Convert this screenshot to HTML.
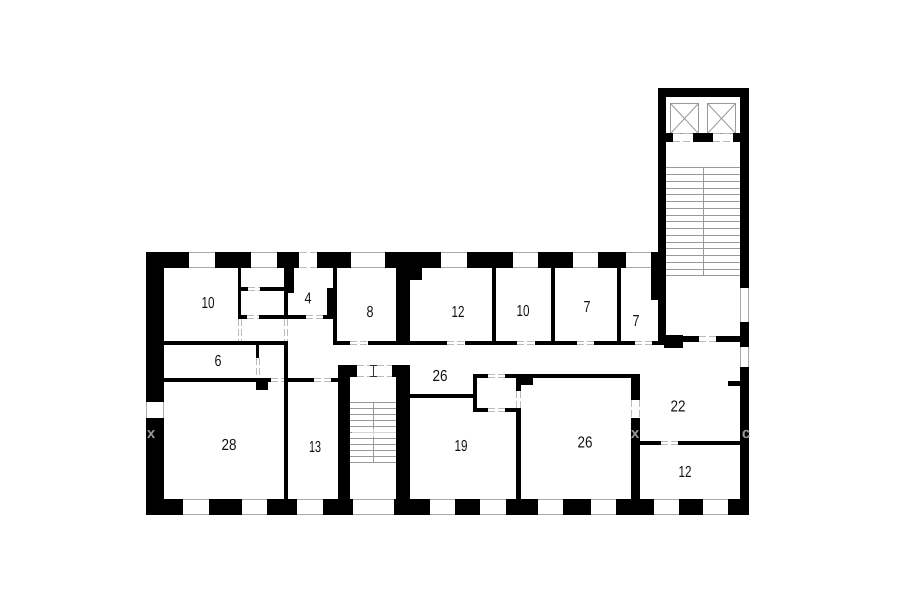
<!DOCTYPE html>
<html><head><meta charset="utf-8"><style>
html,body{margin:0;padding:0;background:#fff}
svg{display:block}
text{font-family:"Liberation Sans",sans-serif;font-size:16px;fill:#111;text-anchor:middle;text-rendering:geometricPrecision}
</style></head><body>
<svg width="900" height="604" viewBox="0 0 900 604" xmlns="http://www.w3.org/2000/svg">
<rect width="900" height="604" fill="#fff"/>
<!-- stairs -->
<g stroke="#999" stroke-width="1" fill="none">
<path d="M666 167.500H740M666 174.500H740M666 181.500H740M666 188.500H740M666 194.500H740M666 201.500H740M666 208.500H740M666 215.500H740M666 221.500H740M666 228.500H740M666 235.500H740M666 242.500H740M666 248.500H740M666 255.500H740M666 262.500H740M666 269.500H740M666 275.500H740M703.500 167V275"/>
<path d="M350 402.500H396M350 408.500H396M350 414.500H396M350 420.500H396M350 426.500H396M350 432.500H396M350 438.500H396M350 444.500H396M350 450.500H396M350 456.500H396M350 462.500H396M373.500 402V462"/>
<rect x="670.500" y="103.500" width="28" height="30"/><path d="M670.500 103.500L698.500 133.500M698.500 103.500L670.500 133.500"/>
<rect x="707.500" y="103.500" width="28" height="30"/><path d="M707.500 103.500L735.500 133.500M735.500 103.500L707.500 133.500"/>
</g>
<rect x="352" y="429" width="44" height="8" fill="#fff" opacity=".6"/>
<!-- walls -->
<g fill="#000">
<rect x="146" y="252" width="18" height="150"/><rect x="146" y="418" width="18" height="97"/>
<rect x="146" y="252" width="43" height="16"/><rect x="215" y="252" width="36" height="16"/><rect x="277" y="252" width="22" height="16"/>
<rect x="317" y="252" width="34" height="16"/><rect x="385" y="252" width="56" height="16"/><rect x="467" y="252" width="46" height="16"/>
<rect x="538" y="252" width="35" height="16"/><rect x="598" y="252" width="28" height="16"/>
<rect x="146" y="499" width="37" height="16"/><rect x="209" y="499" width="33" height="16"/><rect x="267" y="499" width="30" height="16"/>
<rect x="323" y="499" width="30" height="16"/><rect x="394" y="499" width="36" height="16"/><rect x="455" y="499" width="25" height="16"/>
<rect x="506" y="499" width="32" height="16"/><rect x="563" y="499" width="28" height="16"/><rect x="616" y="499" width="38" height="16"/>
<rect x="679" y="499" width="24" height="16"/><rect x="728" y="499" width="21" height="16"/>
<rect x="658" y="88" width="91" height="9"/><rect x="658" y="88" width="8" height="254"/>
<rect x="740" y="88" width="9" height="200"/><rect x="740" y="322" width="9" height="25"/><rect x="740" y="367" width="9" height="148"/>
<rect x="651" y="252" width="8" height="16"/><rect x="651" y="268" width="9" height="32"/>
<rect x="666" y="133" width="7" height="9"/><rect x="693" y="133" width="20" height="9"/><rect x="733" y="133" width="7" height="9"/>
<rect x="664" y="335" width="19" height="13"/><rect x="683" y="336" width="16" height="6"/><rect x="716" y="336" width="24" height="6"/>
<rect x="238" y="268" width="3" height="51"/>
<rect x="241" y="287" width="7" height="4"/><rect x="260" y="287" width="24" height="4"/>
<rect x="238" y="315" width="9" height="4"/><rect x="259" y="315" width="47" height="4"/><rect x="323" y="315" width="10" height="4"/>
<rect x="284" y="268" width="10" height="25"/><rect x="284" y="293" width="4" height="26"/>
<rect x="327" y="288" width="6" height="27"/><rect x="333" y="268" width="4" height="77"/>
<rect x="164" y="341" width="124" height="4"/>
<rect x="284" y="341" width="4" height="158"/>
<rect x="256" y="345" width="3" height="13"/>
<rect x="164" y="378" width="107" height="4"/><rect x="256" y="378" width="12" height="12"/>
<rect x="288" y="378" width="26" height="4"/><rect x="331" y="378" width="7" height="4"/>
<rect x="333" y="341" width="17" height="4"/><rect x="368" y="341" width="79" height="4"/><rect x="465" y="341" width="52" height="4"/>
<rect x="535" y="341" width="42" height="4"/><rect x="594" y="341" width="41" height="4"/><rect x="652" y="341" width="14" height="4"/>
<rect x="396" y="268" width="14" height="77"/><rect x="410" y="268" width="12" height="12"/>
<rect x="492" y="268" width="4" height="73"/><rect x="551" y="268" width="4" height="73"/><rect x="617" y="268" width="4" height="73"/>
<rect x="338" y="365" width="12" height="134"/><rect x="338" y="365" width="19" height="12"/>
<rect x="396" y="365" width="14" height="134"/><rect x="392" y="365" width="4" height="12"/>
<rect x="410" y="394" width="63" height="4"/>
<rect x="473" y="374" width="4" height="38"/><rect x="473" y="374" width="15" height="4"/><rect x="473" y="408" width="15" height="4"/>
<rect x="505" y="408" width="15" height="4"/><rect x="505" y="374" width="135" height="4"/>
<rect x="516" y="378" width="17" height="7"/><rect x="516" y="385" width="5" height="6"/>
<rect x="516" y="408" width="5" height="91"/>
<rect x="631" y="374" width="9" height="26"/><rect x="631" y="418" width="9" height="81"/>
<rect x="640" y="441" width="21" height="4"/><rect x="678" y="441" width="62" height="4"/>
<rect x="728" y="381" width="12" height="5"/>
</g>
<!-- window edge lines -->
<g stroke="#aaa" stroke-width="1" fill="none">
<path d="M189 252.500H215M251 252.500H277M351 252.500H385M441 252.500H467M513 252.500H538M573 252.500H598M626 252.500H651"/>
<path d="M189 267.500H215M251 267.500H277M351 267.500H385M441 267.500H467M513 267.500H538M573 267.500H598M626 267.500H651"/>
<path d="M183 514.500H209M242 514.500H267M297 514.500H323M353 514.500H394M430 514.500H455M480 514.500H506M538 514.500H563M591 514.500H616M654 514.500H679M703 514.500H728"/>
<path d="M183 499.500H209M242 499.500H267M297 499.500H323M353 499.500H394M430 499.500H455M480 499.500H506M538 499.500H563M591 499.500H616M654 499.500H679M703 499.500H728"/>
<path d="M740.500 288V322M748.500 288V322M740.500 347V367M748.500 347V367"/>
<path d="M146.500 402V418M163.500 402V418"/>
</g>
<!-- doors dashed -->
<g stroke="#bbb" stroke-width="1" fill="none" stroke-dasharray="7 3">
<path d="M300 252.500H317M300 267.500H317"/>
<path d="M248 287.500H260M248 290.500H260M247 315.500H259M247 318.500H259M306 315.500H323M306 318.500H323"/>
<path d="M238.500 319V341M241.500 319V341M284.500 319V341M287.500 319V341M256.500 358V378M259.500 358V378"/>
<path d="M271 378.500H284M271 381.500H284M314 378.500H331M314 381.500H331"/>
<path d="M350 341.500H368M350 344.500H368M447 341.500H465M447 344.500H465M517 341.500H535M517 344.500H535M577 341.500H594M577 344.500H594M635 341.500H652M635 344.500H652"/>
<path d="M699 336.500H716M699 341.500H716M673 133.500H693M673 141.500H693M713 133.500H733M713 141.500H733"/>
<path d="M357 365.500H392M357 376.500H392"/>
<path d="M488 374.500H505M488 377.500H505M488 408.500H505M488 411.500H505M516.500 391V408M520.500 391V408"/>
<path d="M631.500 400V418M639.500 400V418M661 441.500H678M661 444.500H678"/>
</g>
<path d="M373.500 365V377M370 365.500H377M370 376.500H377" stroke="#333" stroke-width="1" fill="none"/>
<!-- faint wall marks -->
<text x="151" y="438" style="fill:#999;font-size:15px;font-weight:bold">x</text>
<text x="635" y="438" style="fill:#999;font-size:15px;font-weight:bold">x</text>
<text x="746" y="438" style="fill:#999;font-size:15px;font-weight:bold">c</text>
<!-- labels -->
<g>
<text x="208" y="308" textLength="13" lengthAdjust="spacingAndGlyphs">10</text>
<text x="308" y="303.500" textLength="7" lengthAdjust="spacingAndGlyphs">4</text>
<text x="218" y="366" textLength="7" lengthAdjust="spacingAndGlyphs">6</text>
<text x="370" y="317" textLength="7" lengthAdjust="spacingAndGlyphs">8</text>
<text x="458" y="317" textLength="13" lengthAdjust="spacingAndGlyphs">12</text>
<text x="523" y="316" textLength="13" lengthAdjust="spacingAndGlyphs">10</text>
<text x="587" y="312" textLength="7" lengthAdjust="spacingAndGlyphs">7</text>
<text x="636" y="326" textLength="7" lengthAdjust="spacingAndGlyphs">7</text>
<text x="440" y="381" textLength="15" lengthAdjust="spacingAndGlyphs">26</text>
<text x="678" y="411.500" textLength="15" lengthAdjust="spacingAndGlyphs">22</text>
<text x="229" y="450" textLength="15" lengthAdjust="spacingAndGlyphs">28</text>
<text x="315" y="452" textLength="12" lengthAdjust="spacingAndGlyphs">13</text>
<text x="461" y="451" textLength="13" lengthAdjust="spacingAndGlyphs">19</text>
<text x="585" y="447.500" textLength="15" lengthAdjust="spacingAndGlyphs">26</text>
<text x="685" y="477" textLength="13" lengthAdjust="spacingAndGlyphs">12</text>
</g>
</svg>
</body></html>
